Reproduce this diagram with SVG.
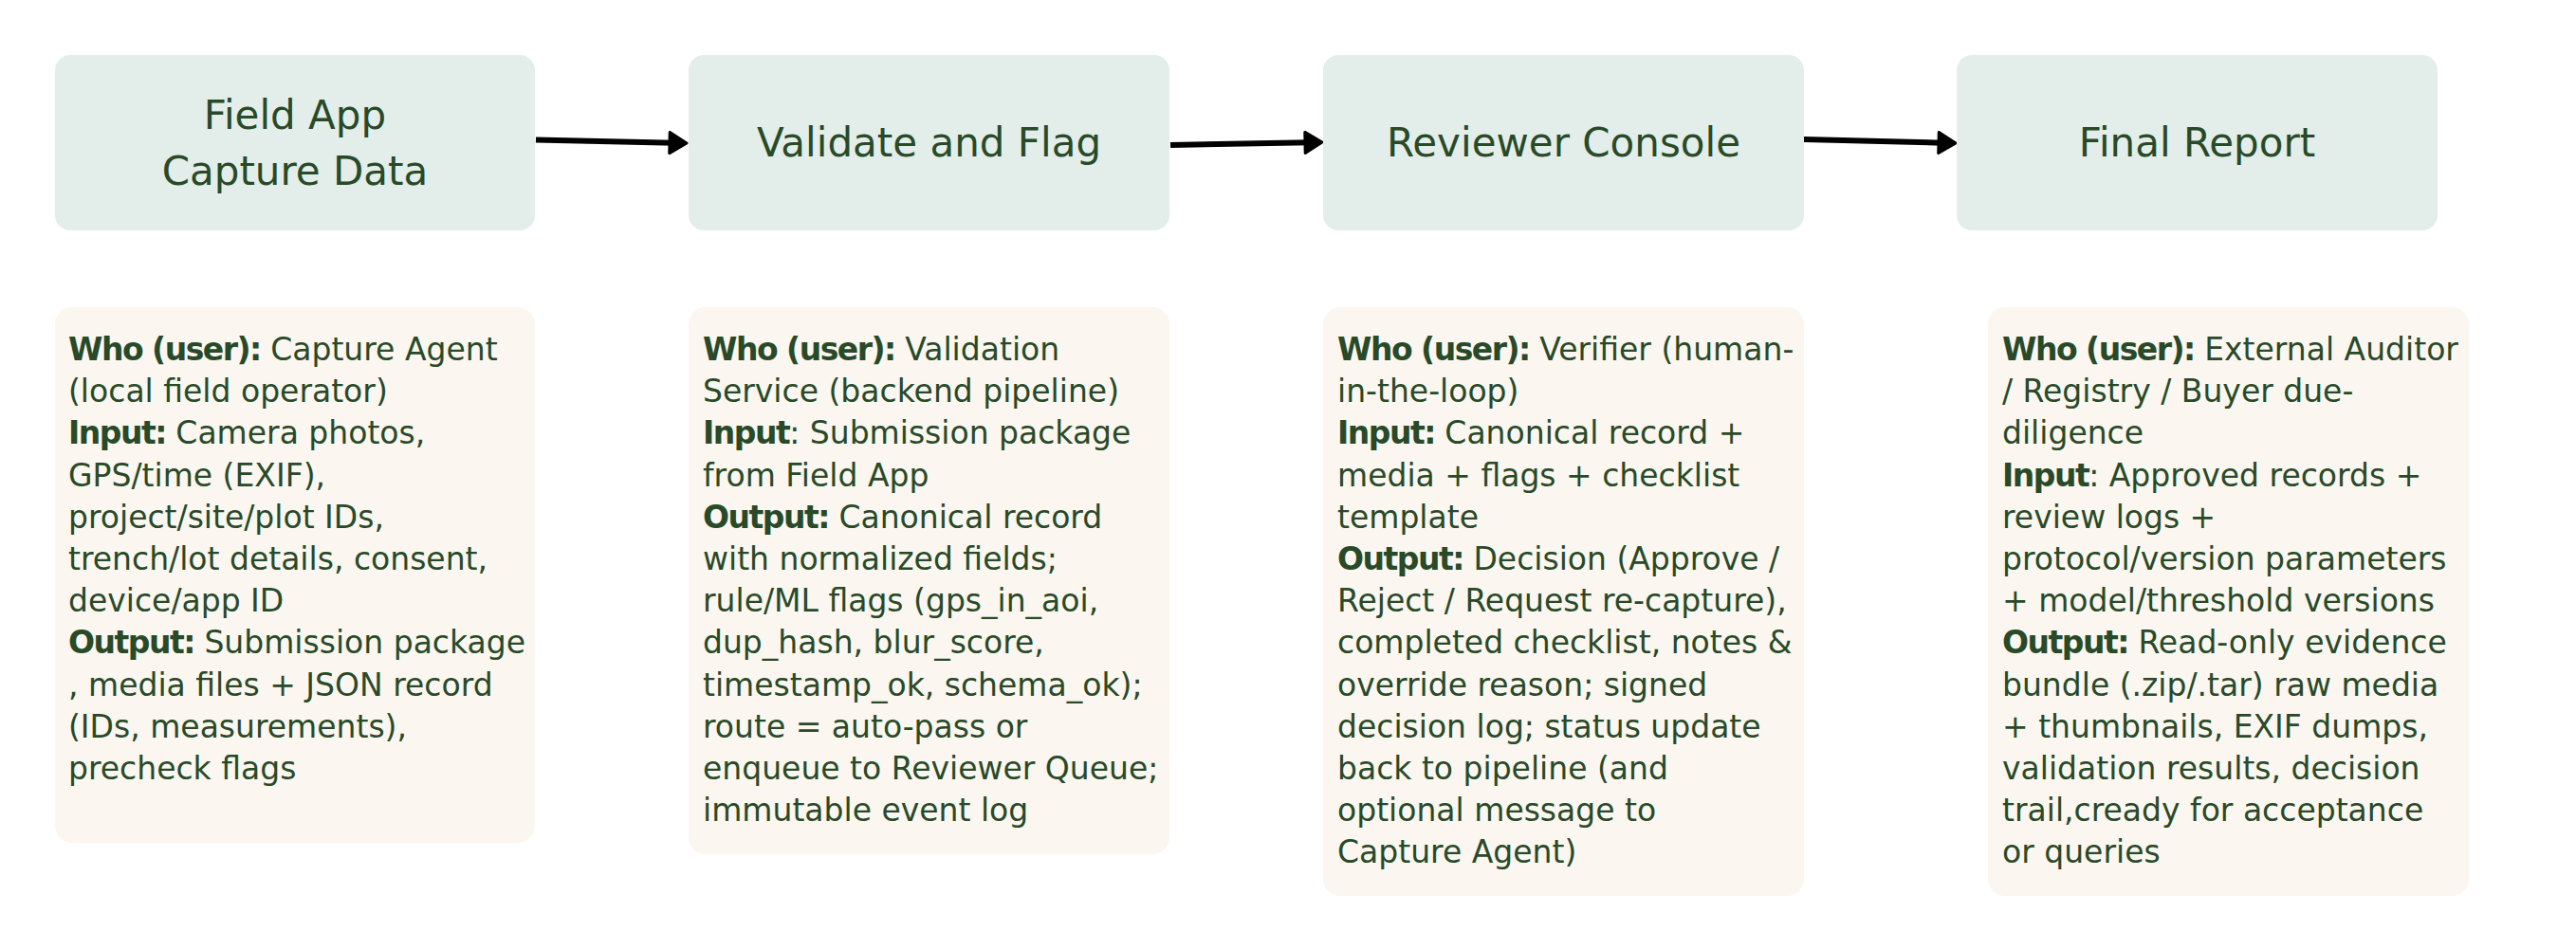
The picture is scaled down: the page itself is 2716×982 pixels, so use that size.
<svg xmlns="http://www.w3.org/2000/svg" width="2716" height="982" viewBox="0 0 2716 982">
  <defs>
    <style>
      .hdr { fill: #e3eeea; }
      .card { fill: #fbf6f0; }
      .title { font-family: "DejaVu Sans", "Liberation Sans", sans-serif; font-size: 42px; fill: #284a28; text-anchor: middle; }
      .body { font-family: "DejaVu Sans", "Liberation Sans", sans-serif; font-size: 33px; fill: #284a28; }
      .b { font-weight: bold; letter-spacing: -1.5px; }
      .conn { stroke: #000; stroke-width: 6; fill: none; marker-end: url(#arrow); }
    </style>
    <marker id="arrow" viewBox="0 0 22 26" refX="7" refY="13" markerWidth="22" markerHeight="26" markerUnits="userSpaceOnUse" orient="auto">
      <path d="M2,2 L20,13 L2,24 Z" fill="#000" stroke="#000" stroke-width="3" stroke-linejoin="round"/>
    </marker>
  </defs>
  <rect width="2716" height="982" fill="#ffffff"/>

  <g id="connectors">
    <path class="conn" d="M565,147.5 L711,150.7"/>
    <path class="conn" d="M1234,153 L1381,150.3"/>
    <path class="conn" d="M1902,147 L2049,150.7"/>
  </g>

  <g id="node-field-app">
    <rect class="hdr" x="58" y="58" width="506" height="185" rx="16"/>
    <text class="title" x="311" y="136">Field App</text>
    <text class="title" x="311" y="195">Capture Data</text>
  </g>
  <g id="node-validate">
    <rect class="hdr" x="726" y="58" width="507" height="185" rx="16"/>
    <text class="title" x="979.5" y="165">Validate and Flag</text>
  </g>
  <g id="node-reviewer">
    <rect class="hdr" x="1395" y="58" width="507" height="185" rx="16"/>
    <text class="title" x="1648.5" y="165">Reviewer Console</text>
  </g>
  <g id="node-final">
    <rect class="hdr" x="2063" y="58" width="507" height="185" rx="16"/>
    <text class="title" x="2316.5" y="165">Final Report</text>
  </g>

  <g id="card-field-app">
    <rect class="card" x="58" y="324" width="506" height="565" rx="18"/>
    <text class="body">
      <tspan x="72" y="380"><tspan class="b">Who (user):</tspan> Capture Agent</tspan>
      <tspan x="72" y="424.2">(local field operator)</tspan>
      <tspan x="72" y="468.4"><tspan class="b">Input:</tspan> Camera photos,</tspan>
      <tspan x="72" y="512.6">GPS/time (EXIF),</tspan>
      <tspan x="72" y="556.8">project/site/plot IDs,</tspan>
      <tspan x="72" y="601">trench/lot details, consent,</tspan>
      <tspan x="72" y="645.2">device/app ID</tspan>
      <tspan x="72" y="689.4"><tspan class="b">Output:</tspan> Submission package</tspan>
      <tspan x="72" y="733.6">, media files + JSON record</tspan>
      <tspan x="72" y="777.8">(IDs, measurements),</tspan>
      <tspan x="72" y="822">precheck flags</tspan>
    </text>
  </g>

  <g id="card-validate">
    <rect class="card" x="726" y="324" width="507" height="577" rx="18"/>
    <text class="body">
      <tspan x="741" y="380"><tspan class="b">Who (user):</tspan> Validation</tspan>
      <tspan x="741" y="424.2">Service (backend pipeline)</tspan>
      <tspan x="741" y="468.4"><tspan class="b">Input</tspan>: Submission package</tspan>
      <tspan x="741" y="512.6">from Field App</tspan>
      <tspan x="741" y="556.8"><tspan class="b">Output:</tspan> Canonical record</tspan>
      <tspan x="741" y="601">with normalized fields;</tspan>
      <tspan x="741" y="645.2">rule/ML flags (gps_in_aoi,</tspan>
      <tspan x="741" y="689.4">dup_hash, blur_score,</tspan>
      <tspan x="741" y="733.6">timestamp_ok, schema_ok);</tspan>
      <tspan x="741" y="777.8">route = auto-pass or</tspan>
      <tspan x="741" y="822">enqueue to Reviewer Queue;</tspan>
      <tspan x="741" y="866.2">immutable event log</tspan>
    </text>
  </g>

  <g id="card-reviewer">
    <rect class="card" x="1395" y="324" width="507" height="621" rx="18"/>
    <text class="body">
      <tspan x="1410" y="380"><tspan class="b">Who (user):</tspan> Verifier (human-</tspan>
      <tspan x="1410" y="424.2">in-the-loop)</tspan>
      <tspan x="1410" y="468.4"><tspan class="b">Input:</tspan> Canonical record +</tspan>
      <tspan x="1410" y="512.6">media + flags + checklist</tspan>
      <tspan x="1410" y="556.8">template</tspan>
      <tspan x="1410" y="601"><tspan class="b">Output:</tspan> Decision (Approve /</tspan>
      <tspan x="1410" y="645.2">Reject / Request re-capture),</tspan>
      <tspan x="1410" y="689.4">completed checklist, notes &amp;</tspan>
      <tspan x="1410" y="733.6">override reason; signed</tspan>
      <tspan x="1410" y="777.8">decision log; status update</tspan>
      <tspan x="1410" y="822">back to pipeline (and</tspan>
      <tspan x="1410" y="866.2">optional message to</tspan>
      <tspan x="1410" y="910.4">Capture Agent)</tspan>
    </text>
  </g>

  <g id="card-final">
    <rect class="card" x="2096" y="324" width="507" height="621" rx="18"/>
    <text class="body">
      <tspan x="2111" y="380"><tspan class="b">Who (user):</tspan> External Auditor</tspan>
      <tspan x="2111" y="424.2">/ Registry / Buyer due-</tspan>
      <tspan x="2111" y="468.4">diligence</tspan>
      <tspan x="2111" y="512.6"><tspan class="b">Input</tspan>: Approved records +</tspan>
      <tspan x="2111" y="556.8">review logs +</tspan>
      <tspan x="2111" y="601">protocol/version parameters</tspan>
      <tspan x="2111" y="645.2">+ model/threshold versions</tspan>
      <tspan x="2111" y="689.4"><tspan class="b">Output:</tspan> Read-only evidence</tspan>
      <tspan x="2111" y="733.6">bundle (.zip/.tar) raw media</tspan>
      <tspan x="2111" y="777.8">+ thumbnails, EXIF dumps,</tspan>
      <tspan x="2111" y="822">validation results, decision</tspan>
      <tspan x="2111" y="866.2">trail,cready for acceptance</tspan>
      <tspan x="2111" y="910.4">or queries</tspan>
    </text>
  </g>
</svg>
